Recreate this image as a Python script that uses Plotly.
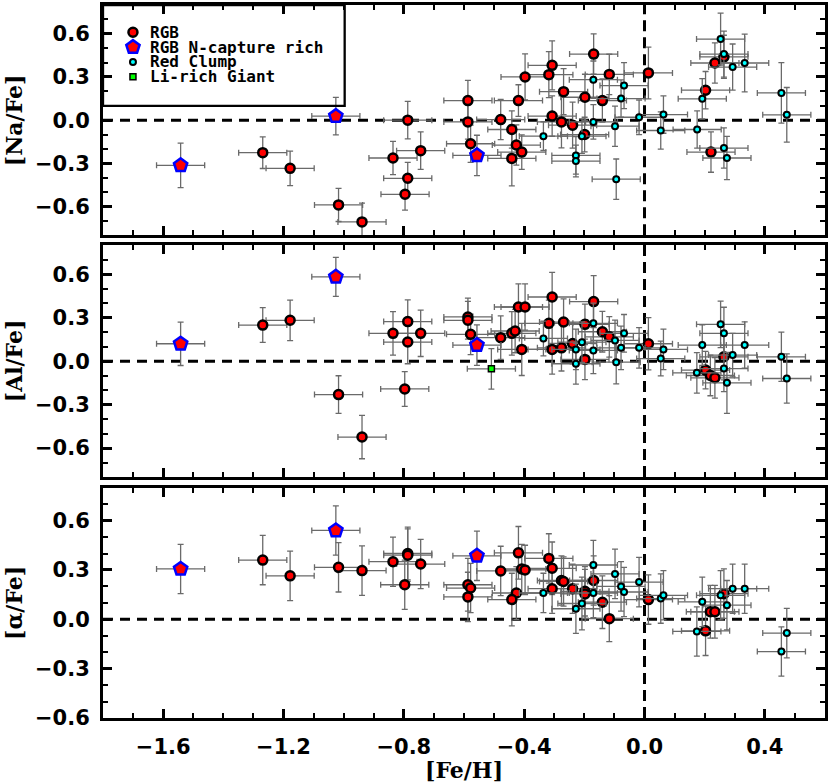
import plotly.graph_objects as go

# ---------------- data ----------------
XERR = 0.08

# Panel 1: [Na/Fe]
NA_RGB_FEH = [-1.269, -1.178, -1.017, -0.939, -0.836, -0.787, -0.787, -0.796, -0.744, -0.587, -0.587, -0.578,
              -0.478, -0.441, -0.426, -0.408, -0.441, -0.419, -0.397, -0.318, -0.307, -0.307, -0.276, -0.269,
              -0.239, -0.198, -0.199, -0.169, -0.140, -0.117, 0.013, 0.203, 0.234, 0.264, 0.221]
NA_RGB = [-0.226, -0.335, -0.589, -0.707, -0.263, 0.000, -0.404, -0.515, -0.212, 0.136, -0.012, -0.164,
          0.004, -0.065, -0.173, -0.222, -0.266, 0.136, 0.300, 0.316, 0.381, 0.028, -0.012, 0.198,
          -0.035, 0.159, -0.100, 0.459, 0.136, 0.318, 0.328, 0.208, 0.397, 0.440, -0.222]
NA_RGB_ERR = [0.11, 0.12, 0.115, 0.13, 0.115, 0.13, 0.11, 0.11, 0.13, 0.14, 0.12, 0.13,
              0.14, 0.13, 0.14, 0.12, 0.19, 0.11, 0.16, 0.16, 0.17, 0.14, 0.18, 0.16,
              0.16, 0.16, 0.12, 0.14, 0.15, 0.14, 0.18, 0.13, 0.14, 0.15, 0.14]
NA_NCAP_FEH = [-1.542, -1.026, -0.557]
NA_NCAP = [-0.314, 0.028, -0.245]
NA_NCAP_ERR = [0.155, 0.13, 0.14]
NA_RC_FEH = [-0.336, -0.228, -0.228, -0.208, -0.170, -0.170, -0.098, -0.094, -0.078, -0.068, -0.018, 0.054,
             0.063, 0.175, 0.192, 0.253, 0.264, 0.293, 0.333, 0.264, 0.274, 0.455, 0.473]
NA_RC = [-0.111, -0.245, -0.284, -0.111, 0.281, -0.012, -0.042, -0.410, 0.150, 0.240, 0.020, -0.072,
         0.039, -0.065, 0.148, 0.563, 0.459, 0.369, 0.397, -0.194, -0.263, 0.189, 0.037]
NA_RC_ERR = [0.10, 0.13, 0.11, 0.12, 0.13, 0.12, 0.14, 0.14, 0.13, 0.16, 0.12, 0.13,
             0.13, 0.13, 0.14, 0.18, 0.16, 0.16, 0.20, 0.14, 0.15, 0.21, 0.19]

# Panel 2: [Al/Fe]
AL_RGB_FEH = [-1.269, -1.178, -1.017, -0.939, -0.836, -0.787, -0.787, -0.797, -0.744, -0.587, -0.587, -0.578,
              -0.478, -0.441, -0.430, -0.419, -0.397, -0.408, -0.307, -0.318, -0.269, -0.307, -0.276, -0.239,
              -0.198, -0.198, -0.169, -0.140, -0.117, 0.013, 0.203, 0.219, 0.234, 0.264]
AL_RGB = [0.249, 0.282, -0.231, -0.524, 0.192, 0.273, 0.132, -0.192, 0.192, 0.305, 0.282, 0.185,
          0.162, 0.192, 0.208, 0.374, 0.374, 0.081, 0.443, 0.261, 0.270, 0.081, 0.092, 0.122,
          0.254, 0.012, 0.411, 0.203, 0.168, 0.120, -0.062, -0.099, -0.115, 0.030]
AL_RGB_ERR = [0.12, 0.14, 0.13, 0.15, 0.15, 0.15, 0.15, 0.12, 0.16, 0.13, 0.13, 0.14,
              0.15, 0.15, 0.15, 0.16, 0.16, 0.18, 0.17, 0.16, 0.16, 0.17, 0.16, 0.14,
              0.14, 0.14, 0.18, 0.14, 0.14, 0.18, 0.13, 0.14, 0.14, 0.16]
AL_NCAP_FEH = [-1.542, -1.026, -0.557]
AL_NCAP = [0.120, 0.582, 0.111]
AL_NCAP_ERR = [0.15, 0.135, 0.14]
AL_RC_FEH = [-0.336, -0.228, -0.228, -0.208, -0.170, -0.170, -0.098, -0.094, -0.078, -0.068, -0.018, 0.054,
             0.063, 0.174, 0.192, 0.253, 0.264, 0.293, 0.333, 0.264, 0.274, 0.455, 0.473]
AL_RC = [0.157, 0.081, -0.018, 0.131, 0.261, 0.074, 0.143, -0.007, 0.092, 0.192, 0.092, 0.018,
         0.081, -0.081, 0.111, 0.254, 0.192, 0.042, 0.111, -0.051, -0.150, 0.030, -0.120]
AL_RC_ERR = [0.12, 0.14, 0.14, 0.14, 0.14, 0.16, 0.14, 0.15, 0.15, 0.13, 0.14, 0.12,
             0.14, 0.14, 0.14, 0.16, 0.18, 0.15, 0.16, 0.16, 0.21, 0.17, 0.17]
AL_LI_FEH = [-0.509]
AL_LI = [-0.053]
AL_LI_ERR = [0.14]

# Panel 3: [alpha/Fe]
AF_RGB_FEH = [-1.269, -1.178, -1.017, -0.939, -0.836, -0.787, -0.787, -0.797, -0.744, -0.587, -0.578, -0.587,
              -0.478, -0.419, -0.408, -0.397, -0.426, -0.441, -0.318, -0.307, -0.307, -0.276, -0.269, -0.239,
              -0.198, -0.198, -0.169, -0.140, -0.117, 0.013, 0.203, 0.219, 0.234, 0.264]
AF_RGB = [0.360, 0.264, 0.316, 0.296, 0.350, 0.400, 0.390, 0.210, 0.336, 0.210, 0.190, 0.136,
          0.294, 0.404, 0.306, 0.300, 0.160, 0.120, 0.370, 0.310, 0.186, 0.236, 0.230, 0.186,
          0.170, 0.154, 0.236, 0.104, 0.004, 0.120, -0.070, 0.046, 0.046, 0.156]
AF_RGB_ERR = [0.15, 0.15, 0.15, 0.15, 0.15, 0.16, 0.16, 0.15, 0.15, 0.16, 0.15, 0.15,
              0.15, 0.16, 0.15, 0.15, 0.16, 0.16, 0.15, 0.16, 0.15, 0.15, 0.15, 0.15,
              0.15, 0.15, 0.15, 0.16, 0.14, 0.15, 0.15, 0.16, 0.16, 0.15]
AF_NCAP_FEH = [-1.542, -1.026, -0.557]
AF_NCAP = [0.306, 0.540, 0.386]
AF_NCAP_ERR = [0.15, 0.15, 0.15]
AF_RC_FEH = [-0.336, -0.228, -0.208, -0.170, -0.170, -0.098, -0.078, -0.068, -0.018, 0.054, 0.063, 0.174,
             0.192, 0.253, 0.274, 0.293, 0.333, 0.455, 0.473]
AF_RC = [0.160, 0.064, 0.096, 0.330, 0.160, 0.276, 0.200, 0.166, 0.226, 0.126, 0.146, -0.074,
         0.106, 0.146, 0.086, 0.186, 0.186, -0.196, -0.084]
AF_RC_ERR = [0.12, 0.15, 0.16, 0.15, 0.15, 0.15, 0.15, 0.15, 0.15, 0.15, 0.15, 0.15,
             0.15, 0.15, 0.15, 0.15, 0.15, 0.15, 0.15]

LEGEND_LABELS = ["RGB", "RGB N-capture rich", "Red Clump", "Li-rich Giant"]
X_TICKS = [-1.6, -1.2, -0.8, -0.4, 0.0, 0.4]
Y_TICKS = [-0.6, -0.3, 0.0, 0.3, 0.6]
Y_TITLES = ["[Na/Fe]", "[Al/Fe]", "[α/Fe]"]
X_TITLE = "[Fe/H]"

# ---------------- styles ----------------
ERR_COLOR = "#6a6a6a"
STY = {
    "rgb": dict(symbol="circle", size=9, color="#ff0000", line=dict(color="black", width=2.5)),
    "ncap": dict(symbol="pentagon", size=14, color="#ff0000", line=dict(color="#0000ff", width=2.5)),
    "rc": dict(symbol="circle", size=6, color="#00ffff", line=dict(color="black", width=2)),
    "li": dict(symbol="square", size=6, color="#00ff00", line=dict(color="black", width=1.5)),
}

fig = go.Figure()


def add(x, y, yerr, kind, ax):
    fig.add_trace(go.Scatter(
        x=x, y=y, mode="markers", marker=STY[kind], showlegend=False,
        error_x=dict(type="constant", value=XERR, color=ERR_COLOR, thickness=1.3, width=3),
        error_y=dict(type="data", array=yerr, color=ERR_COLOR, thickness=1.3, width=3),
        xaxis="x" + ax, yaxis="y" + ax, hoverinfo="skip"))


add(NA_RGB_FEH, NA_RGB, NA_RGB_ERR, "rgb", "")
add(NA_RC_FEH, NA_RC, NA_RC_ERR, "rc", "")
add(NA_NCAP_FEH, NA_NCAP, NA_NCAP_ERR, "ncap", "")

add(AL_RGB_FEH, AL_RGB, AL_RGB_ERR, "rgb", "2")
add(AL_RC_FEH, AL_RC, AL_RC_ERR, "rc", "2")
add(AL_NCAP_FEH, AL_NCAP, AL_NCAP_ERR, "ncap", "2")
add(AL_LI_FEH, AL_LI, AL_LI_ERR, "li", "2")

add(AF_RGB_FEH, AF_RGB, AF_RGB_ERR, "rgb", "3")
add(AF_RC_FEH, AF_RC, AF_RC_ERR, "rc", "3")
add(AF_NCAP_FEH, AF_NCAP, AF_NCAP_ERR, "ncap", "3")

W, H = 830, 783
ML, MR, MT, MB = 103, 4, 2, 65

# legend helper axis in pixel units
LEG_X = 133
LEG_ROWS = [29.4, 44.3, 59.2, 74.0]
for lab, kind, yy in zip(LEGEND_LABELS, ["rgb", "ncap", "rc", "li"], LEG_ROWS):
    fig.add_trace(go.Scatter(x=[LEG_X], y=[yy], mode="markers", marker=STY[kind],
                             showlegend=False, xaxis="x4", yaxis="y4", hoverinfo="skip"))
    fig.add_annotation(x=LEG_X + 15, y=yy, xref="x4", yref="y4", text=lab, showarrow=False,
                       xanchor="left", yanchor="middle",
                       font=dict(family="DejaVu Sans Mono", size=16, color="black", weight="bold"))

fig.add_shape(type="rect", xref="x4", yref="y4", x0=ML, x1=345, y0=MT, y1=103.3,
              line=dict(color="black", width=2.3), fillcolor="rgba(0,0,0,0)")

TICKFONT = dict(family="DejaVu Sans", size=21, color="black", weight="bold")


def xax(show):
    return dict(range=[-1.8, 0.6], showline=True, linewidth=3, linecolor="black", mirror="allticks",
                ticks="inside", ticklen=9, tickwidth=2.5, tickcolor="black",
                tickvals=X_TICKS, tickformat=".1f", showticklabels=show, tickfont=TICKFONT,
                ticklabelstandoff=8,
                minor=dict(dtick=0.1, tick0=0, ticks="inside", ticklen=5, tickwidth=2, tickcolor="black"),
                showgrid=False, zeroline=False, fixedrange=True)


def yax(rng, dom):
    return dict(range=rng, domain=dom, showline=True, linewidth=3, linecolor="black", mirror="allticks",
                ticks="inside", ticklen=9, tickwidth=2.5, tickcolor="black",
                tickvals=Y_TICKS, tickformat=".1f", tickfont=TICKFONT, ticklabelstandoff=6,
                minor=dict(dtick=0.1, tick0=0, ticks="inside", ticklen=5, tickwidth=2, tickcolor="black"),
                showgrid=False, zeroline=False, fixedrange=True)


DOMS = [[0.677, 1.0], [0.338, 0.663], [0.0, 0.323]]
fig.update_layout(
    width=W, height=H, margin=dict(l=ML, r=MR, t=MT, b=MB),
    paper_bgcolor="white", plot_bgcolor="rgba(0,0,0,0)",
    showlegend=False,
    xaxis=dict(xax(False), anchor="y"),
    xaxis2=dict(xax(False), anchor="y2"),
    xaxis3=dict(xax(True), anchor="y3"),
    yaxis=dict(yax([-0.8, 0.8], DOMS[0]), anchor="x"),
    yaxis2=dict(yax([-0.8, 0.8], DOMS[1]), anchor="x2"),
    yaxis3=dict(yax([-0.6, 0.8], DOMS[2]), anchor="x3"),
    xaxis4=dict(range=[ML, W - MR], domain=[0, 1], anchor="y4", visible=False, fixedrange=True),
    yaxis4=dict(range=[H - MB, MT], domain=[0, 1], anchor="x4", visible=False, fixedrange=True),
)

# reference lines
DASH = "10px,7px"
for ax in ["", "2", "3"]:
    fig.add_shape(type="line", xref="x" + ax, yref="y" + ax, x0=-1.8, x1=0.6, y0=0, y1=0,
                  line=dict(color="black", width=3, dash=DASH), layer="below")
    fig.add_shape(type="line", xref="x" + ax, yref="y" + ax + " domain", x0=0, x1=0, y0=0, y1=1,
                  line=dict(color="black", width=3, dash="11px,6px"), layer="below")

TITLEFONT = dict(family="DejaVu Serif", size=22, color="black", weight="bold")
for ax, t in zip(["y", "y2", "y3"], Y_TITLES):
    fig.add_annotation(x=(14 - ML) / (W - ML - MR), xref="paper", y=0.5, yref=ax + " domain",
                       text=t, textangle=-90, showarrow=False, xanchor="center", yanchor="middle",
                       font=TITLEFONT)
fig.add_annotation(x=0.5, xref="paper", y=(H - MB - 770) / (H - MB - MT), yref="paper",
                   text=X_TITLE, showarrow=False, xanchor="center", yanchor="middle", font=TITLEFONT)

fig.write_html("out.html", config={"displayModeBar": False},
               post_script="document.body.style.margin='0';document.body.style.overflow='hidden';")
